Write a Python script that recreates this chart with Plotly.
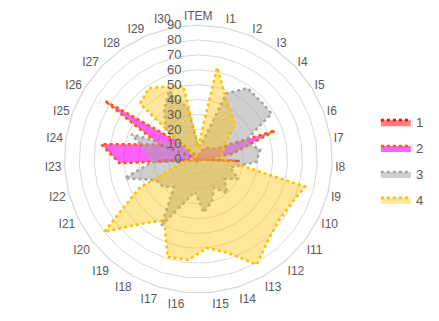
import plotly.graph_objects as go

categories = ["ITEM"] + [f"I{i}" for i in range(1, 31)]

series_names = ["1", "2", "3", "4"]

# values ordered ITEM, I1 .. I30
s1 = [0, 0, 0, 0, 0, 0, 0, 0, 28, 0, 0, 0, 0, 0, 0, 0,
      0, 0, 0, 0, 0, 0, 0, 28, 0, 28, 0, 0, 0, 0, 0]
s2 = [2, 4, 6, 9, 11, 13, 55, 23, 4, 2, 2, 2, 2, 2, 2, 2,
      2, 2, 2, 2, 2, 2, 4, 53, 66, 28, 74, 14, 3, 2, 2]
s3 = [8, 10, 48, 58, 57, 58, 33, 42, 39, 22, 30, 22, 30, 22, 30, 36,
      22, 30, 51, 25, 30, 32, 51, 30, 35, 48, 15, 30, 40, 50, 35]
s4 = [8, 63, 46, 38, 34, 22, 18, 16, 19, 74, 69, 68, 72, 81, 66, 60,
      68, 69, 47, 57, 80, 44, 12, 5, 4, 3, 2, 54, 58, 53, 50]

values = [s1, s2, s3, s4]
fills = ["rgba(255,0,0,0.5)", "rgba(255,0,255,0.62)",
         "rgba(166,166,166,0.55)", "rgba(255,192,0,0.4)"]
lines = ["#FF0000", "#FF5A00", "#A5A5A5", "#FFC000"]

fig = go.Figure()
for name, vals, fc, lc in zip(series_names, values, fills, lines):
    fig.add_trace(go.Scatterpolar(
        r=vals + vals[:1],
        theta=categories + categories[:1],
        name=name,
        legendgroup=name,
        mode="lines",
        fill="toself",
        fillcolor=fc,
        line=dict(color=lc, width=2.6, dash="dot"),
    ))

fig.update_layout(
    width=439, height=321,
    margin=dict(l=0, r=0, t=0, b=0, autoexpand=False),
    paper_bgcolor="white",
    font=dict(family="Liberation Sans", size=12, color="#595959"),
    polar=dict(
        domain=dict(x=[0.1282, 0.7387], y=[0.1119, 0.9468]),
        bgcolor="white",
        gridshape="linear",
        radialaxis=dict(range=[0, 90], dtick=10, angle=90, tickangle=90,
                        side="counterclockwise", ticksuffix="\u00a0\u00a0\u00a0\u00a0",
                        showline=False, ticks="", gridcolor="#D9D9D9",
                        gridwidth=1.3, tickfont=dict(size=13, color="#595959")),
        angularaxis=dict(rotation=90, direction="clockwise", showgrid=False,
                         linecolor="#D9D9D9", linewidth=1.3, ticks="",
                         tickfont=dict(size=12, color="#595959")),
    ),
    legend=dict(x=0.838, y=0.691, xanchor="left", yanchor="top",
                itemwidth=30, tracegroupgap=6,
                font=dict(size=13, color="#595959"),
                bgcolor="rgba(0,0,0,0)"),
)

fig.write_html("out.html")
